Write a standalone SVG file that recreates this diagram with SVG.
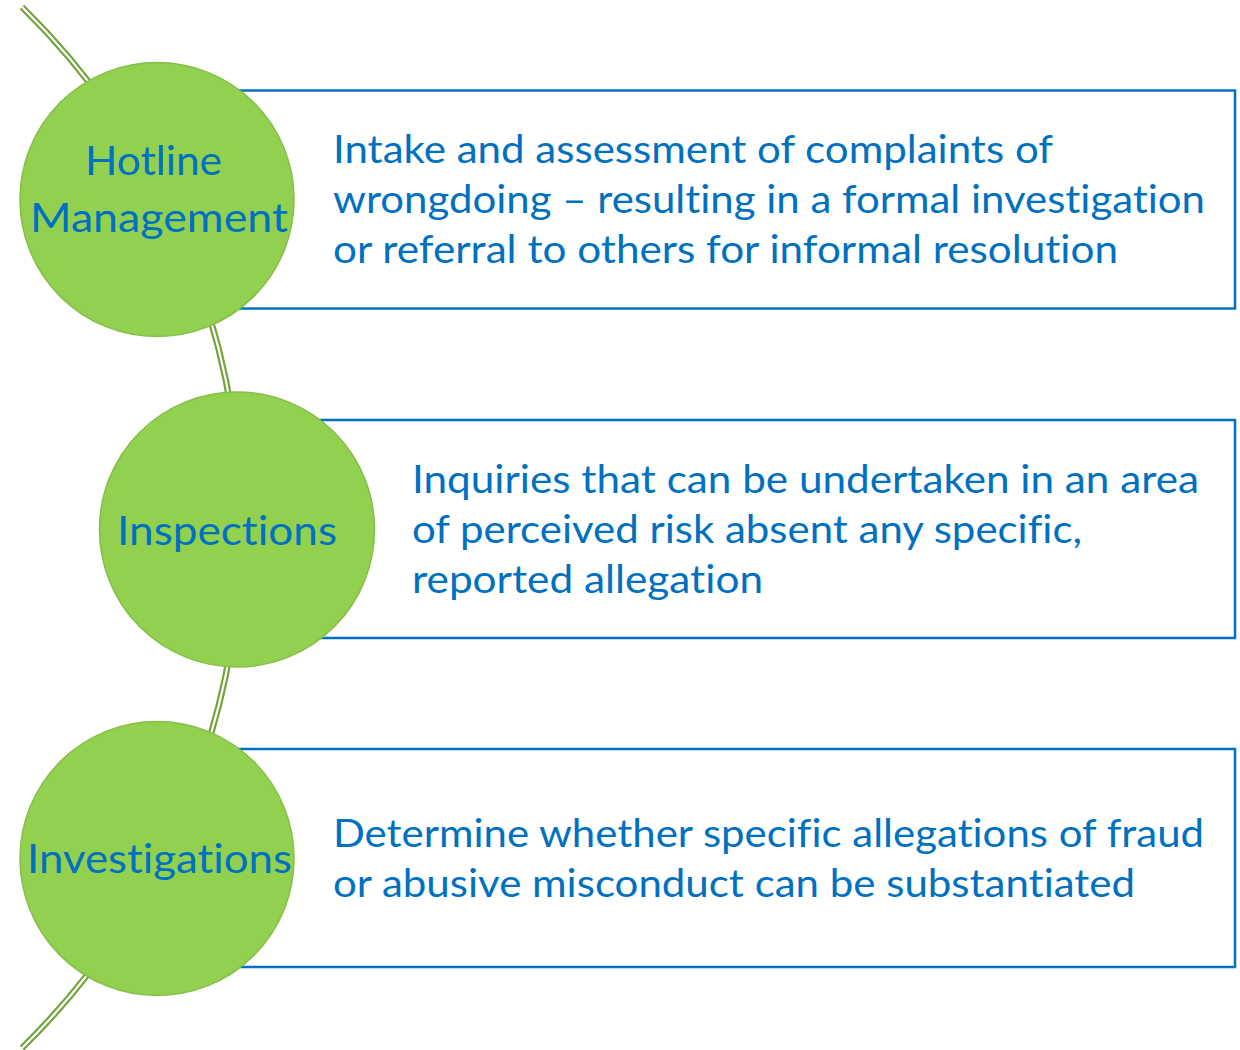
<svg xmlns="http://www.w3.org/2000/svg" width="1240" height="1050" viewBox="0 0 1240 1050">
  <style>
    .box { fill: #ffffff; stroke: #0070C0; stroke-width: 2.5; }
    .ball { fill: #92D050; stroke: #86BE48; stroke-width: 1.5; }
    .lbl { font-family: Lato, "Open Sans", "Liberation Sans", sans-serif; font-size: 41px; fill: #0070C0; font-variant-ligatures: none; }
    .desc { font-family: Lato, "Open Sans", "Liberation Sans", sans-serif; font-size: 39px; fill: #0070C0; font-variant-ligatures: none; }
    .arcOuter { fill: none; stroke: #72A33A; stroke-width: 6.5; }
    .arcInner { fill: none; stroke: #ffffff; stroke-width: 2.2; }
  </style>
  <rect width="1240" height="1050" fill="#ffffff"/>
  <g id="connectors">
    <path class="arcOuter" d="M22,7 A728.7,728.7 0 0,1 22,1048"/>
    <path class="arcInner" d="M22,7 A728.7,728.7 0 0,1 22,1048"/>
  </g>
  <g id="node-hotline">
    <rect class="box" x="160" y="90.5" width="1075" height="218"/>
    <circle class="ball" cx="157" cy="199.5" r="137"/>
    <text class="lbl" x="85" y="175" textLength="137" lengthAdjust="spacingAndGlyphs">Hotline</text>
    <text class="lbl" x="30" y="232" textLength="258" lengthAdjust="spacingAndGlyphs">Management</text>
    <text class="desc" x="333" y="163" textLength="720" lengthAdjust="spacingAndGlyphs">Intake and assessment of complaints of</text>
    <text class="desc" x="333" y="213" textLength="872" lengthAdjust="spacingAndGlyphs">wrongdoing – resulting in a formal investigation</text>
    <text class="desc" x="333" y="263" textLength="785" lengthAdjust="spacingAndGlyphs">or referral to others for informal resolution</text>
  </g>
  <g id="node-inspections">
    <rect class="box" x="240" y="420" width="995" height="218"/>
    <circle class="ball" cx="237" cy="529.5" r="137.5"/>
    <text class="lbl" x="117" y="545" textLength="220" lengthAdjust="spacingAndGlyphs">Inspections</text>
    <text class="desc" x="412" y="493" textLength="787" lengthAdjust="spacingAndGlyphs">Inquiries that can be undertaken in an area</text>
    <text class="desc" x="412" y="543" textLength="670" lengthAdjust="spacingAndGlyphs">of perceived risk absent any specific,</text>
    <text class="desc" x="412" y="593" textLength="351" lengthAdjust="spacingAndGlyphs">reported allegation</text>
  </g>
  <g id="node-investigations">
    <rect class="box" x="160" y="749" width="1075" height="218"/>
    <circle class="ball" cx="157" cy="858.5" r="137"/>
    <text class="lbl" x="27" y="873" textLength="265" lengthAdjust="spacingAndGlyphs">Investigations</text>
    <text class="desc" x="333" y="847" textLength="871" lengthAdjust="spacingAndGlyphs">Determine whether specific allegations of fraud</text>
    <text class="desc" x="333" y="897" textLength="802" lengthAdjust="spacingAndGlyphs">or abusive misconduct can be substantiated</text>
  </g>
</svg>
